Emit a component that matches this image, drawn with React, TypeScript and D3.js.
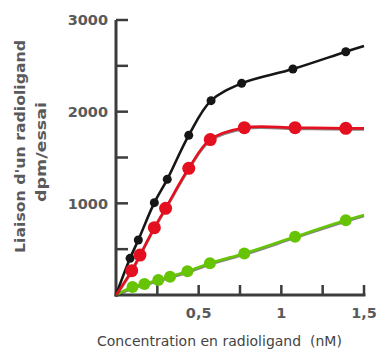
import React, { useRef, useEffect } from "react";
import * as d3 from "d3";

// Concentration (nM) and binding (dpm/essai)
const totalX = [0, 0.085, 0.135, 0.232, 0.31, 0.44, 0.575, 0.76, 1.07, 1.39, 1.5];
const totalY = [0, 400, 600, 1007, 1262, 1742, 2120, 2309, 2465, 2654, 2716];

const specificX = [0, 0.095, 0.145, 0.232, 0.3, 0.44, 0.57, 0.776, 1.083, 1.39, 1.5];
const specificY = [0, 265, 436, 734, 946, 1382, 1696, 1825, 1825, 1818, 1818];

const nonSpecificX = [0, 0.1, 0.172, 0.256, 0.327, 0.432, 0.568, 0.776, 1.083, 1.39, 1.5];
const nonSpecificY = [0, 87, 120, 164, 200, 258, 346, 453, 636, 815, 873];

const xTicks = [0.25, 0.5, 0.75, 1, 1.25, 1.5];
const xTickLabels = [
  { v: 0.5, t: "0,5" },
  { v: 1, t: "1" },
  { v: 1.5, t: "1,5" },
];
const yTicks = [500, 1000, 1500, 2000, 2500, 3000];
const yTickLabels = [1000, 2000, 3000];

const zip = (xs: number[], ys: number[]) => xs.map((x, i) => ({ x, y: ys[i] }));

const App = () => {
  const ref = useRef<SVGSVGElement>(null);

  useEffect(() => {
    const width = 385;
    const height = 352;
    const svg = d3.select(ref.current).attr("width", width).attr("height", height);
    svg.selectAll("*").remove();

    const x = d3.scaleLinear().domain([0, 1.5]).range([116, 364]);
    const y = d3.scaleLinear().domain([0, 3000]).range([295, 20]);
    const axisColor = "#3c3c3c";
    const font = "DejaVu Sans, Verdana, sans-serif";

    // axes
    svg.append("line")
      .attr("x1", x(0)).attr("x2", x(0)).attr("y1", y(3000)).attr("y2", y(0) + 1.5)
      .attr("stroke", axisColor).attr("stroke-width", 3);
    svg.append("line")
      .attr("x1", x(0) - 1.5).attr("x2", x(1.5) + 1.5).attr("y1", y(0)).attr("y2", y(0))
      .attr("stroke", axisColor).attr("stroke-width", 3);

    svg.selectAll(".ytick").data(yTicks).enter().append("line")
      .attr("x1", x(0)).attr("x2", x(0) + 12)
      .attr("y1", d => y(d)).attr("y2", d => y(d))
      .attr("stroke", axisColor).attr("stroke-width", 2.5);
    svg.selectAll(".xtick").data(xTicks).enter().append("line")
      .attr("x1", d => x(d)).attr("x2", d => x(d))
      .attr("y1", y(0)).attr("y2", y(0) - 10)
      .attr("stroke", axisColor).attr("stroke-width", 2.5);

    svg.selectAll(".ylab").data(yTickLabels).enter().append("text")
      .attr("x", 108).attr("y", d => y(d)).attr("dy", "0.36em")
      .attr("text-anchor", "end")
      .attr("font-family", font).attr("font-size", 14.5).attr("font-weight", "bold")
      .attr("fill", "#5a5a5a")
      .text(d => d);
    svg.selectAll(".xlab").data(xTickLabels).enter().append("text")
      .attr("x", d => x(d.v)).attr("y", 318)
      .attr("text-anchor", "middle")
      .attr("font-family", font).attr("font-size", 14.5).attr("font-weight", "bold")
      .attr("fill", "#5a5a5a")
      .text(d => d.t);

    svg.append("text")
      .attr("x", 97).attr("y", 346)
      .attr("font-family", font).attr("font-size", 14).attr("fill", "#444")
      .attr("xml:space", "preserve")
      .text("Concentration en radioligand  (nM)");

    // y title, two rotated lines
    const ylab = svg.append("g").attr("transform", "rotate(-90)")
      .attr("font-family", font).attr("font-size", 14).attr("font-weight", "bold")
      .attr("fill", "#5a5a5a");
    ylab.append("text").attr("x", -253).attr("y", 25)
      .attr("textLength", 213).attr("lengthAdjust", "spacingAndGlyphs")
      .text("Liaison d'un radioligand");
    ylab.append("text").attr("x", -202).attr("y", 46)
      .attr("textLength", 100).attr("lengthAdjust", "spacingAndGlyphs")
      .text("dpm/essai");

    const smooth = d3.line<{ x: number; y: number }>()
      .x(d => x(d.x)).y(d => y(d.y))
      .curve(d3.curveCatmullRom.alpha(0.5));
    const mono = d3.line<{ x: number; y: number }>()
      .x(d => x(d.x)).y(d => y(d.y))
      .curve(d3.curveMonotoneX);

    const series = [
      { data: zip(nonSpecificX, nonSpecificY), color: "#66c404", r: 6, shadow: true, line: mono },
      { data: zip(totalX, totalY), color: "#161616", r: 4.5, shadow: false, line: smooth },
      { data: zip(specificX, specificY), color: "#e5101f", r: 6.5, shadow: true, line: smooth },
    ];

    series.forEach(s => {
      if (s.shadow) {
        svg.append("path").datum(s.data)
          .attr("d", s.line).attr("fill", "none")
          .attr("stroke", "#333").attr("stroke-opacity", 0.6).attr("stroke-width", 2.5)
          .attr("transform", "translate(0,1.2)");
      }
      svg.append("path").datum(s.data)
        .attr("d", s.line).attr("fill", "none")
        .attr("stroke", s.color).attr("stroke-width", 2.6);
      svg.selectAll(null).data(s.data.slice(1, -1)).enter().append("circle")
        .attr("cx", d => x(d.x)).attr("cy", d => y(d.y)).attr("r", s.r)
        .attr("fill", s.color);
    });
  }, []);

  return (
    <div style={{ position: "absolute", left: 0, top: 0 }}>
      <svg ref={ref} style={{ display: "block", background: "#fff" }}></svg>
    </div>
  );
};

export default App;
